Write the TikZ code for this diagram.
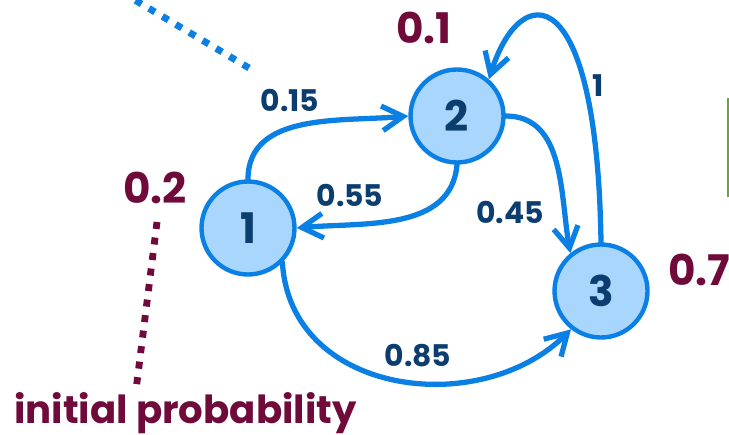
\documentclass[tikz,border=0pt]{standalone}
\usepackage{fontspec}
\setmainfont{Poppins}
\usetikzlibrary{arrows.meta}
\definecolor{edgecol}{HTML}{0A80E4}
\definecolor{statecol}{HTML}{A9D6FD}
\definecolor{labcol}{HTML}{0B3D6F}
\definecolor{probcol}{HTML}{6F0A3B}
\definecolor{barcol}{HTML}{6AA535}

\begin{document}
\begin{tikzpicture}[
  x=0.02cm, y=-0.02cm,
  font=\bfseries,
  state/.style = {circle, draw=edgecol, fill=statecol, line width=2.5pt,
                  minimum size=1.86cm, inner sep=0pt, text=labcol,
                  font=\bfseries\fontsize{24}{28}\selectfont},
  lab/.style   = {text=labcol, inner sep=0pt, font=\bfseries\fontsize{17}{20}\selectfont},
  prob/.style  = {text=probcol, inner sep=0pt, font=\bfseries\fontsize{24}{28}\selectfont},
  arr/.style   = {-{Straight Barb[length=12pt, width=14pt]}, line width=3pt,
                  edgecol, line cap=round},
  dots/.style  = {line width=3.9pt, dash pattern=on 4pt off 4.9pt}]
\useasboundingbox (0,0) rectangle (729,435);
\clip (0,0) rectangle (729,435);

\node[state] (n1) at (248,228) {1};
\node[state] (n2) at (457,116) {2};
\node[state] (n3) at (601,291) {3};

\draw[arr] (n1.north) to[out=90, in=185] (n2.west);
\draw[arr] (n2.south) to[out=-95, in=5] (n1.east);
\draw[arr] (n2.east) to[out=0, in=100] (n3.129);
\draw[arr] (n3.north) .. controls (597,-25) and (520,-20) .. (n2.49);
\draw[arr] (n1.-45) .. controls (290,395) and (480,420) .. (n3.232);

\node[lab] (l12) at (290,100) {0.15};
\node[lab] (l21) at (350,195) {0.55};
\node[lab] (l23) at (510,212) {0.45};
\node[lab] (l32) at (598,86) {1};
\node[lab] (l13) at (418,356) {0.85};

\node[prob] (p1) at (155,188) {0.2};
\node[prob] (p2) at (424,28) {0.1};
\node[prob, anchor=west] (p3) at (668,270) {0.7};
\node[prob, anchor=base west, font=\bfseries\fontsize{22}{26}\selectfont] (init) at (14,423) {initial probability};

\coordinate (a) at (118,-10);
\coordinate (b) at (249,68);
\draw[dots, edgecol] (b) -- (a);
\coordinate (c) at (157,222);
\coordinate (d) at (136,390);
\draw[dots, probcol] (c) -- (d);

\coordinate (g1) at (728,98);
\coordinate (g2) at (728,197);
\draw[barcol, line width=1.3pt] (g1) -- (g2);
\end{tikzpicture}
\end{document}
